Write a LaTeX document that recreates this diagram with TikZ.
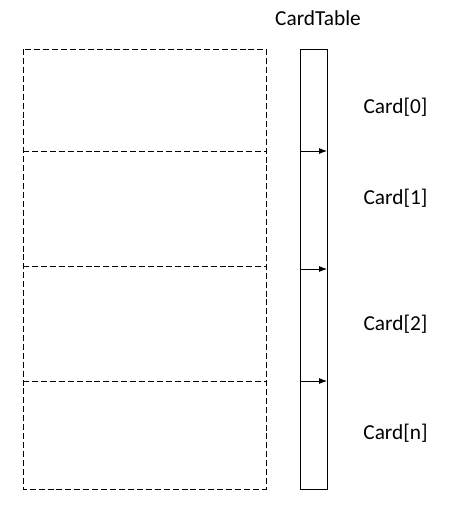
\documentclass[tikz,border=0pt]{standalone}
\usepackage{fontspec}
\setmainfont{Carlito}
\usepackage{tikz}
\usetikzlibrary{arrows.meta}

\begin{document}
\begin{tikzpicture}[x=0.75pt, y=-0.75pt, font=\fontsize{16}{19}\selectfont]
        \tikzstyle{heap}=[draw, line width=0.6pt, dash pattern=on 4.5pt off 2.2pt]
        \tikzstyle{table}=[draw, line width=0.6pt]
        \tikzstyle{ptr}=[-{Latex[length=6pt,width=4.5pt]}, line width=0.6pt]
        \tikzstyle{lbl}=[anchor=center, inner sep=0pt]
        \useasboundingbox (0,0) rectangle (458,525);
        \coordinate (h1) at (23,49);  \coordinate (h2) at (266,489);
        \coordinate (t1) at (300,49); \coordinate (t2) at (327,489);
        \draw [heap] (h1) rectangle (h2);
        \draw [table] (t1) rectangle (t2);
        \coordinate (s0) at (23,151); \coordinate (e0) at (266,151);
        \coordinate (s1) at (23,266); \coordinate (e1) at (266,266);
        \coordinate (s2) at (23,381); \coordinate (e2) at (266,381);
        \draw [heap] (s0) -- (e0);
        \draw [heap] (s1) -- (e1);
        \draw [heap] (s2) -- (e2);
        \coordinate (a0) at (300,151); \coordinate (b0) at (327,151);
        \coordinate (a1) at (300,269); \coordinate (b1) at (327,269);
        \coordinate (a2) at (300,381); \coordinate (b2) at (327,381);
        \draw [ptr] (a0) -- (b0);
        \draw [ptr] (a1) -- (b1);
        \draw [ptr] (a2) -- (b2);
        \node [lbl] (title) at (318,18.5) {CardTable};
        \node [lbl] (c0) at (395.5,107) {Card[0]};
        \node [lbl] (c1) at (395.5,198) {Card[1]};
        \node [lbl] (c2) at (395.5,324) {Card[2]};
        \node [lbl] (cn) at (395.5,433) {Card[n]};
\end{tikzpicture}
\end{document}
